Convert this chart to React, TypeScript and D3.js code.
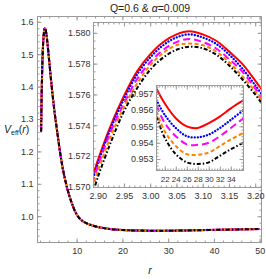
import React, { useEffect, useRef } from 'react';
import * as d3 from 'd3';

// main panel, all five curves lie on top of each other here
const main_r = [2.24, 2.35, 2.5, 2.65, 2.8, 2.9, 3.0, 3.07, 3.2, 3.4, 3.6, 4.0, 4.43, 5.24, 5.75, 6.3, 7.0, 8.0, 9.0, 10.0, 11.0, 12.2, 14.0, 16.7, 20, 24, 27.5, 32, 36, 42, 50];
const main_v = [1.262, 1.37, 1.465, 1.525, 1.558, 1.5717, 1.5786, 1.5801, 1.5769, 1.562, 1.538, 1.48, 1.417, 1.314, 1.262, 1.205, 1.145, 1.083, 1.038, 1.006, 0.988, 0.978, 0.969, 0.9615, 0.9575, 0.9555, 0.9549, 0.9555, 0.9566, 0.9583, 0.9605];

// zoom on the peak
const in1_r = [2.89, 2.90, 2.925, 2.95, 2.975, 3.00, 3.025, 3.05, 3.075, 3.10, 3.125, 3.15, 3.175, 3.20, 3.215];
const in1_red = [1.5706, 1.5717, 1.5740, 1.5759, 1.5775, 1.5786, 1.5794, 1.5799, 1.5801, 1.5799, 1.5795, 1.5788, 1.5780, 1.5769, 1.5762];
const in1_blue = [1.5704, 1.5715, 1.5738, 1.5757, 1.5773, 1.5784, 1.5792, 1.5797, 1.5799, 1.5797, 1.5793, 1.5786, 1.5777, 1.5766, 1.5759];
const in1_magenta = [1.5702, 1.5713, 1.5736, 1.5754, 1.5770, 1.5781, 1.5789, 1.5794, 1.5796, 1.5794, 1.5790, 1.5783, 1.5775, 1.5764, 1.5757];
const in1_orange = [1.5699, 1.5710, 1.5733, 1.5752, 1.5767, 1.5779, 1.5787, 1.5792, 1.5793, 1.5792, 1.5788, 1.5781, 1.5772, 1.5762, 1.5755];
const in1_black = [1.5695, 1.5706, 1.5729, 1.5749, 1.5764, 1.5776, 1.5784, 1.5789, 1.5791, 1.5790, 1.5786, 1.5779, 1.5770, 1.5760, 1.5753];

// zoom on the well
const in2_r = [20.5, 22, 24, 26, 28, 30, 32, 34, 36.3];
const in2_red = [0.9573, 0.9564, 0.9555, 0.9550, 0.9549, 0.9552, 0.9556, 0.9561, 0.9566];
const in2_blue = [0.9566, 0.9557, 0.9549, 0.9544, 0.95433, 0.9545, 0.9549, 0.9554, 0.9560];
const in2_magenta = [0.9563, 0.9552, 0.9544, 0.9539, 0.95387, 0.9540, 0.9544, 0.9549, 0.9555];
const in2_orange = [0.9559, 0.9547, 0.9538, 0.9533, 0.95326, 0.9534, 0.9538, 0.9542, 0.9546];
const in2_black = [0.9556, 0.9543, 0.9533, 0.9528, 0.9527, 0.9528, 0.9532, 0.9536, 0.9540];

const styles = [
  { color: '#ff0000', dash: null, width: 2, cap: 'butt' },
  { color: '#0000ff', dash: '0.1,3', width: 2.3, cap: 'round' },
  { color: '#ff00ff', dash: '7,4', width: 2, cap: 'butt' },
  { color: '#ff8000', dash: '4,2.5', width: 2, cap: 'butt' },
  { color: '#000000', dash: '4,2,1.5,2', width: 2, cap: 'butt' },
];

const main_x_ticks = [10, 20, 30, 40, 50];
const main_y_ticks = [1.0, 1.1, 1.2, 1.3, 1.4, 1.5, 1.6];
const in1_x_ticks = [2.90, 2.95, 3.00, 3.05, 3.10, 3.15, 3.20];
const in1_y_ticks = [1.570, 1.572, 1.574, 1.576, 1.578, 1.580];
const in2_x_ticks = [22, 24, 26, 28, 30, 32, 34];
const in2_y_ticks = [0.953, 0.954, 0.955, 0.956, 0.957];

const FONT = '"Liberation Sans Narrow", "Liberation Sans", Arial, sans-serif';
const FRAME = '#9a9a9a';

function minors(domain, step) {
  let out = [];
  let start = Math.ceil(domain[0] / step - 1e-9);
  for (let k = start; k * step <= domain[1] + 1e-9; k++) out.push(+(k * step).toFixed(6));
  return out;
}

function drawPanel(svg, id, box, x_dom, y_dom, x_ticks, y_ticks, x_step, y_step, x_fmt, y_fmt, xs, ys_list, opts) {
  const g = svg.append('g').attr('class', id);
  const x = d3.scaleLinear().domain(x_dom).range([box.x0, box.x1]);
  const y = d3.scaleLinear().domain(y_dom).range([box.y1, box.y0]);

  g.append('rect').attr('x', box.x0).attr('y', box.y0)
    .attr('width', box.x1 - box.x0).attr('height', box.y1 - box.y0).attr('fill', 'white');

  g.append('clipPath').attr('id', 'clip_' + id).append('rect')
    .attr('x', box.x0).attr('y', box.y0).attr('width', box.x1 - box.x0).attr('height', box.y1 - box.y0);

  const curves = g.append('g').attr('clip-path', `url(#clip_${id})`);
  ys_list.forEach((ys, i) => {
    const st = styles[i];
    const line = d3.line().x(d => x(d[0])).y(d => y(d[1])).curve(d3.curveCatmullRom.alpha(0.5));
    curves.append('path')
      .attr('d', line(xs.map((r, j) => [r, ys[j]])))
      .attr('fill', 'none')
      .attr('stroke', st.color)
      .attr('stroke-width', st.width)
      .attr('stroke-dasharray', st.dash)
      .attr('stroke-linecap', st.cap);
  });

  const x_minor = minors(x_dom, x_step);
  const y_minor = minors(y_dom, y_step);

  const axes = [
    { gen: d3.axisBottom, sc: x, t: `translate(0,${box.y1})`, major: x_ticks, minor: x_minor, fmt: x_fmt, pad: opts.xpad, fs: opts.xfs },
    { gen: d3.axisTop, sc: x, t: `translate(0,${box.y0})`, major: x_ticks, minor: x_minor, fmt: null },
    { gen: d3.axisLeft, sc: y, t: `translate(${box.x0},0)`, major: y_ticks, minor: y_minor, fmt: y_fmt, pad: opts.ypad },
    { gen: d3.axisRight, sc: y, t: `translate(${box.x1},0)`, major: y_ticks, minor: y_minor, fmt: null },
  ];
  axes.forEach(a => {
    const mg = g.append('g').attr('transform', a.t).attr('color', FRAME)
      .call(a.gen(a.sc).tickValues(a.minor).tickSize(-2).tickFormat(() => ''));
    mg.select('.domain').remove();
    const ag = g.append('g').attr('transform', a.t).attr('color', FRAME)
      .call(a.gen(a.sc).tickValues(a.major).tickSizeInner(-4).tickSizeOuter(0)
        .tickPadding(a.pad || 3).tickFormat(a.fmt ? d3.format(a.fmt) : () => ''));
    ag.select('.domain').remove();
    ag.attr('font-family', FONT).attr('font-size', a.fs || 9);
    ag.selectAll('text').attr('fill', '#333');
  });

  g.append('rect').attr('x', box.x0).attr('y', box.y0)
    .attr('width', box.x1 - box.x0).attr('height', box.y1 - box.y0)
    .attr('fill', 'none').attr('stroke', FRAME).attr('stroke-width', 1);
}

export default function App() {
  const ref = useRef(null);

  useEffect(() => {
    const svg = d3.select(ref.current);
    svg.selectAll('*').remove();

    drawPanel(svg, 'main', { x0: 37.5, x1: 261.5, y0: 16.5, y1: 242.5 },
      [1.45, 50.4], [0.9188, 1.6164], main_x_ticks, main_y_ticks, 2, 0.02, 'd', '.1f',
      main_r, styles.map(() => main_v), { xpad: 5, ypad: 4 });

    drawPanel(svg, 'in1', { x0: 93.5, x1: 261.5, y0: 22.5, y1: 187.5 },
      [2.892, 3.212], [1.56996, 1.58067], in1_x_ticks, in1_y_ticks, 0.01, 0.0005, '.2f', '.3f',
      in1_r, [in1_red, in1_blue, in1_magenta, in1_orange, in1_black], { xpad: 5, ypad: 3 });

    drawPanel(svg, 'in2', { x0: 156.5, x1: 243.5, y0: 85.5, y1: 170.5 },
      [20.5, 36.3], [0.9523, 0.9575], in2_x_ticks, in2_y_ticks, 0.5, 0.0002, 'd', '.3f',
      in2_r, [in2_red, in2_blue, in2_magenta, in2_orange, in2_black], { xpad: 6, ypad: 3, xfs: 8 });

    const title = svg.append('text').attr('x', 150).attr('y', 12)
      .attr('text-anchor', 'middle').attr('font-family', FONT).attr('font-size', 10.5).attr('fill', '#222');
    title.append('tspan').text('Q=0.6 & ');
    title.append('tspan').attr('font-style', 'italic').text('α');
    title.append('tspan').text('=0.009');

    const ylab = svg.append('text').attr('x', 4).attr('y', 133)
      .attr('font-family', FONT).attr('font-size', 10.5).attr('fill', '#222');
    ylab.append('tspan').attr('font-style', 'italic').text('V');
    ylab.append('tspan').attr('font-size', 7).attr('dy', 2).text('eff');
    ylab.append('tspan').attr('dy', -2).text('(');
    ylab.append('tspan').attr('font-style', 'italic').text('r');
    ylab.append('tspan').text(')');

    svg.append('text').attr('x', 150).attr('y', 274).attr('text-anchor', 'middle')
      .attr('font-family', FONT).attr('font-size', 10.5).attr('font-style', 'italic')
      .attr('fill', '#222').text('r');
  }, []);

  return (
    <svg ref={ref} width={266} height={280}
      style={{ position: 'absolute', left: 0, top: 0, background: 'white' }} />
  );
}
